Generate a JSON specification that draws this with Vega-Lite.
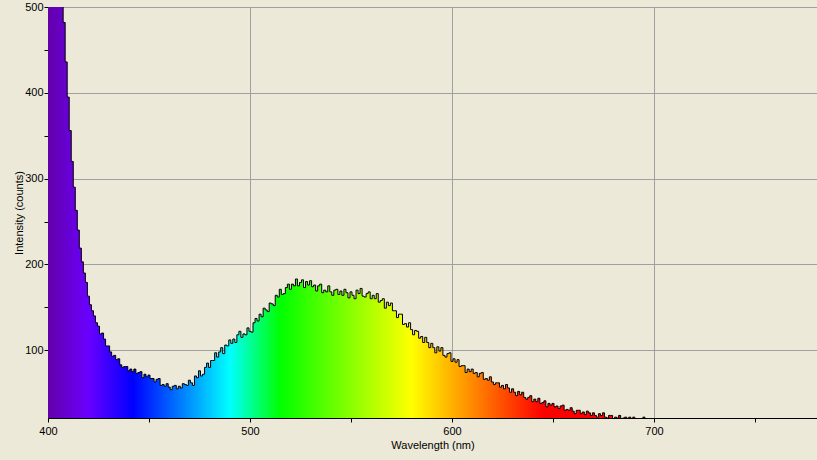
{
  "$schema": "https://vega.github.io/schema/vega-lite/v6.json",
  "width": 769,
  "height": 411,
  "autosize": {"type": "none"},
  "padding": {"left": 48, "top": 7, "right": 0, "bottom": 42},
  "background": "#ECE9D8",
  "config": {
    "view": {"stroke": null},
    "axis": {
      "labelFont": "Liberation Sans",
      "labelFontSize": 11,
      "labelColor": "#000000",
      "labelFlush": false,
      "labelOverlap": false,
      "titleFont": "Liberation Sans",
      "titleFontSize": 11,
      "titleFontWeight": "normal",
      "titleColor": "#000000",
      "domainColor": "#000000",
      "domainWidth": 1,
      "tickColor": "#000000",
      "tickSize": 4,
      "gridColor": "#A0A0A0",
      "gridWidth": 1
    }
  },
  "data": {"values": [
    {"w":400,"c":850},{"w":401,"c":800},{"w":402,"c":752},{"w":403,"c":700},{"w":404,"c":655},{"w":405,"c":610},{"w":406,"c":568},{"w":407,"c":530},{"w":408,"c":482},{"w":409,"c":436},
    {"w":410,"c":395},{"w":411,"c":356},{"w":412,"c":320},{"w":413,"c":290},{"w":414,"c":263},{"w":415,"c":240},{"w":416,"c":219},{"w":417,"c":203},{"w":418,"c":190},{"w":419,"c":179},
    {"w":420,"c":163},{"w":421,"c":153},{"w":422,"c":146},{"w":423,"c":140},{"w":424,"c":132},{"w":425,"c":128},{"w":426,"c":119},{"w":427,"c":120},{"w":428,"c":113},{"w":429,"c":105},
    {"w":430,"c":105},{"w":431,"c":98},{"w":432,"c":93},{"w":433,"c":94},{"w":434,"c":89},{"w":435,"c":90},{"w":436,"c":83},{"w":437,"c":80},{"w":438,"c":81},{"w":439,"c":81},
    {"w":440,"c":76},{"w":441,"c":78},{"w":442,"c":75},{"w":443,"c":78},{"w":444,"c":73},{"w":445,"c":74},{"w":446,"c":75},{"w":447,"c":68},{"w":448,"c":72},{"w":449,"c":69},
    {"w":450,"c":71},{"w":451,"c":67},{"w":452,"c":67},{"w":453,"c":63},{"w":454,"c":66},{"w":455,"c":67},{"w":456,"c":59},{"w":457,"c":60},{"w":458,"c":58},{"w":459,"c":61},
    {"w":460,"c":57},{"w":461,"c":54},{"w":462,"c":58},{"w":463,"c":59},{"w":464,"c":55},{"w":465,"c":58},{"w":466,"c":56},{"w":467,"c":61},{"w":468,"c":60},{"w":469,"c":59},
    {"w":470,"c":65},{"w":471,"c":62},{"w":472,"c":59},{"w":473,"c":70},{"w":474,"c":68},{"w":475,"c":76},{"w":476,"c":70},{"w":477,"c":72},{"w":478,"c":80},{"w":479,"c":85},
    {"w":480,"c":80},{"w":481,"c":88},{"w":482,"c":88},{"w":483,"c":97},{"w":484,"c":92},{"w":485,"c":98},{"w":486,"c":103},{"w":487,"c":96},{"w":488,"c":106},{"w":489,"c":105},
    {"w":490,"c":112},{"w":491,"c":108},{"w":492,"c":113},{"w":493,"c":109},{"w":494,"c":118},{"w":495,"c":122},{"w":496,"c":115},{"w":497,"c":119},{"w":498,"c":118},{"w":499,"c":126},
    {"w":500,"c":122},{"w":501,"c":121},{"w":502,"c":132},{"w":503,"c":137},{"w":504,"c":134},{"w":505,"c":142},{"w":506,"c":139},{"w":507,"c":149},{"w":508,"c":147},{"w":509,"c":145},
    {"w":510,"c":155},{"w":511,"c":154},{"w":512,"c":152},{"w":513,"c":164},{"w":514,"c":162},{"w":515,"c":171},{"w":516,"c":165},{"w":517,"c":166},{"w":518,"c":173},{"w":519,"c":177},
    {"w":520,"c":171},{"w":521,"c":177},{"w":522,"c":175},{"w":523,"c":183},{"w":524,"c":175},{"w":525,"c":179},{"w":526,"c":182},{"w":527,"c":173},{"w":528,"c":180},{"w":529,"c":176},
    {"w":530,"c":181},{"w":531,"c":174},{"w":532,"c":176},{"w":533,"c":169},{"w":534,"c":175},{"w":535,"c":177},{"w":536,"c":167},{"w":537,"c":170},{"w":538,"c":168},{"w":539,"c":175},
    {"w":540,"c":168},{"w":541,"c":164},{"w":542,"c":170},{"w":543,"c":171},{"w":544,"c":165},{"w":545,"c":169},{"w":546,"c":164},{"w":547,"c":171},{"w":548,"c":167},{"w":549,"c":161},
    {"w":550,"c":168},{"w":551,"c":164},{"w":552,"c":160},{"w":553,"c":170},{"w":554,"c":166},{"w":555,"c":172},{"w":556,"c":163},{"w":557,"c":162},{"w":558,"c":166},{"w":559,"c":168},
    {"w":560,"c":160},{"w":561,"c":164},{"w":562,"c":160},{"w":563,"c":166},{"w":564,"c":156},{"w":565,"c":158},{"w":566,"c":160},{"w":567,"c":149},{"w":568,"c":156},{"w":569,"c":152},
    {"w":570,"c":155},{"w":571,"c":146},{"w":572,"c":146},{"w":573,"c":138},{"w":574,"c":142},{"w":575,"c":142},{"w":576,"c":130},{"w":577,"c":131},{"w":578,"c":127},{"w":579,"c":132},
    {"w":580,"c":124},{"w":581,"c":118},{"w":582,"c":123},{"w":583,"c":122},{"w":584,"c":114},{"w":585,"c":116},{"w":586,"c":109},{"w":587,"c":115},{"w":588,"c":109},{"w":589,"c":103},
    {"w":590,"c":108},{"w":591,"c":103},{"w":592,"c":97},{"w":593,"c":104},{"w":594,"c":99},{"w":595,"c":103},{"w":596,"c":94},{"w":597,"c":92},{"w":598,"c":96},{"w":599,"c":97},
    {"w":600,"c":87},{"w":601,"c":90},{"w":602,"c":86},{"w":603,"c":89},{"w":604,"c":81},{"w":605,"c":82},{"w":606,"c":82},{"w":607,"c":74},{"w":608,"c":78},{"w":609,"c":75},
    {"w":610,"c":78},{"w":611,"c":73},{"w":612,"c":74},{"w":613,"c":69},{"w":614,"c":73},{"w":615,"c":74},{"w":616,"c":66},{"w":617,"c":67},{"w":618,"c":65},{"w":619,"c":69},
    {"w":620,"c":63},{"w":621,"c":60},{"w":622,"c":62},{"w":623,"c":62},{"w":624,"c":57},{"w":625,"c":59},{"w":626,"c":55},{"w":627,"c":60},{"w":628,"c":56},{"w":629,"c":51},
    {"w":630,"c":55},{"w":631,"c":51},{"w":632,"c":47},{"w":633,"c":52},{"w":634,"c":48},{"w":635,"c":51},{"w":636,"c":45},{"w":637,"c":43},{"w":638,"c":45},{"w":639,"c":47},
    {"w":640,"c":40},{"w":641,"c":43},{"w":642,"c":40},{"w":643,"c":44},{"w":644,"c":38},{"w":645,"c":39},{"w":646,"c":41},{"w":647,"c":34},{"w":648,"c":38},{"w":649,"c":36},
    {"w":650,"c":38},{"w":651,"c":34},{"w":652,"c":35},{"w":653,"c":32},{"w":654,"c":35},{"w":655,"c":36},{"w":656,"c":30},{"w":657,"c":31},{"w":658,"c":30},{"w":659,"c":33},
    {"w":660,"c":29},{"w":661,"c":26},{"w":662,"c":30},{"w":663,"c":30},{"w":664,"c":26},{"w":665,"c":28},{"w":666,"c":25},{"w":667,"c":29},{"w":668,"c":27},{"w":669,"c":24},
    {"w":670,"c":27},{"w":671,"c":24},{"w":672,"c":22},{"w":673,"c":26},{"w":674,"c":24},{"w":675,"c":27},{"w":676,"c":22},{"w":677,"c":21},{"w":678,"c":24},{"w":679,"c":24},
    {"w":680,"c":20},{"w":681,"c":22},{"w":682,"c":21},{"w":683,"c":24},{"w":684,"c":19},{"w":685,"c":21},{"w":686,"c":22},{"w":687,"c":18},{"w":688,"c":22},{"w":689,"c":19},
    {"w":690,"c":22},{"w":691,"c":19},{"w":692,"c":20},{"w":693,"c":18},{"w":694,"c":20},{"w":695,"c":22},{"w":696,"c":17},{"w":697,"c":19},{"w":698,"c":17},{"w":699,"c":20},
    {"w":700,"c":17}
  ]},
  "encoding": {
    "x": {
      "field": "w", "type": "quantitative",
      "scale": {"domain": [400, 780.7], "nice": false, "zero": false},
      "axis": {
        "title": "Wavelength (nm)",
        "values": [400, 450, 500, 550, 600, 650, 700, 750],
        "labelExpr": "datum.value % 100 === 0 ? datum.label : ''",
        "format": "d",
        "labelPadding": 3,
        "titlePadding": 3,
        "gridOpacity": {"condition": {"test": "datum.value % 100 !== 0", "value": 0}, "value": 1}
      }
    },
    "y": {
      "field": "c", "type": "quantitative",
      "scale": {"domain": [21, 500], "nice": false, "zero": false},
      "axis": {
        "title": "Intensity (counts)",
        "values": [100, 150, 200, 250, 300, 350, 400, 450, 500],
        "labelExpr": "datum.value % 100 === 0 ? datum.label : ''",
        "format": "d",
        "labelPadding": 1,
        "titlePadding": 0,
        "gridOpacity": {"condition": {"test": "datum.value % 100 !== 0", "value": 0}, "value": 1}
      }
    }
  },
  "layer": [
    {
      "mark": {
        "type": "area",
        "interpolate": "step",
        "clip": true,
        "color": {
          "gradient": "linear",
          "x1": 0, "x2": 1, "y1": 0, "y2": 0,
          "stops": [
            {"offset": 0, "color": "#6400A8"},
            {"offset": 0.0667, "color": "#6A00FF"},
            {"offset": 0.14, "color": "#0000FF"},
            {"offset": 0.217, "color": "#0078FF"},
            {"offset": 0.3, "color": "#00FFFF"},
            {"offset": 0.383, "color": "#00FF00"},
            {"offset": 0.6, "color": "#FFFF00"},
            {"offset": 0.817, "color": "#FF0000"},
            {"offset": 1, "color": "#FF0000"}
          ]
        }
      }
    },
    {
      "mark": {"type": "line", "interpolate": "step", "clip": true, "color": "#000000", "strokeWidth": 1}
    }
  ]
}
